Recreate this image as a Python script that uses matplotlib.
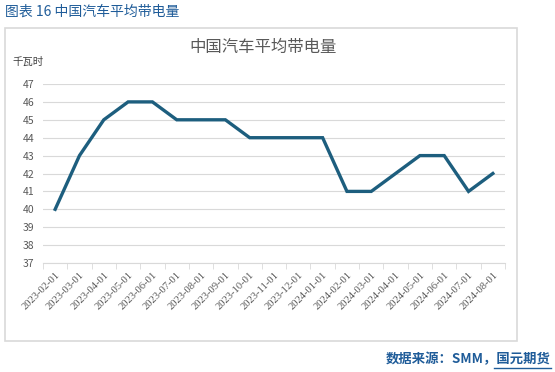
import matplotlib
matplotlib.use('Agg')
import matplotlib.pyplot as plt
from matplotlib.patches import Rectangle

plt.rcParams['font.family'] = ['Noto Sans CJK SC', 'DejaVu Sans']

# 数据
months = ['2023-02-01', '2023-03-01', '2023-04-01', '2023-05-01', '2023-06-01',
          '2023-07-01', '2023-08-01', '2023-09-01', '2023-10-01', '2023-11-01',
          '2023-12-01', '2024-01-01', '2024-02-01', '2024-03-01', '2024-04-01',
          '2024-05-01', '2024-06-01', '2024-07-01', '2024-08-01']
kwh = [40, 43, 45, 46, 46, 45, 45, 45, 44, 44, 44, 44, 41, 41, 42, 43, 43, 41, 42]
y_ticks = list(range(37, 48))

W, H = 555, 372
fig = plt.figure(figsize=(W / 100, H / 100), dpi=100)

# 外框
fig.patches.append(Rectangle((5 / W, 1 - 341 / H), 512 / W, 313 / H,
                             transform=fig.transFigure, fill=False,
                             edgecolor='#D9D9D9', linewidth=1.2))

ax = fig.add_axes([43 / W, 1 - 263 / H, 462 / W, 179 / H])
x = list(range(len(months)))
ax.plot(x, kwh, color='#1D5E7E', linewidth=2.4, solid_joinstyle='miter')

ax.set_xlim(-0.5, len(months) - 0.5)
ax.set_ylim(37, 47)
ax.set_yticks(y_ticks)
ax.set_yticklabels([str(v) for v in y_ticks], fontsize=7.5, color='#595959')
ax.grid(axis='y', color='#D9D9D9', linewidth=0.8)
ax.set_axisbelow(True)

ax.set_xticks(x)
ax.set_xticklabels(months, rotation=45, ha='right', rotation_mode='anchor',
                   fontsize=7.6, color='#595959', family='Liberation Serif')
ax.set_xticks([i - 0.5 for i in range(len(months) + 1)], minor=True)
ax.tick_params(axis='x', which='major', length=0, pad=5)
ax.tick_params(axis='x', which='minor', length=4, color='#D9D9D9')
ax.tick_params(axis='y', length=0, pad=6)
for s in ['top', 'right', 'left']:
    ax.spines[s].set_visible(False)
ax.spines['bottom'].set_color('#D9D9D9')

# 文本
fig.text(5 / W, 1 - 12 / H, '图表 16 中国汽车平均带电量', fontsize=10,
         color='#1F5C99', va='center', ha='left')
fig.text(263 / W, 1 - 47 / H, '中国汽车平均带电量', fontsize=11.8,
         color='#595959', va='center', ha='center')
fig.text(12 / W, 1 - 62 / H, '千瓦时', fontsize=7.5, color='#404040',
         va='center', ha='left')
fig.text(551 / W, 1 - 359 / H, '数据来源：SMM，国元期货', fontsize=9.6,
         color='#1F5C99', va='center', ha='right', fontweight='bold')
fig.lines.append(plt.Line2D([494 / W, 551 / W], [1 - 368 / H, 1 - 368 / H],
                            transform=fig.transFigure, color='#1F5C99', linewidth=1))

fig.savefig('out.png', dpi=100)
